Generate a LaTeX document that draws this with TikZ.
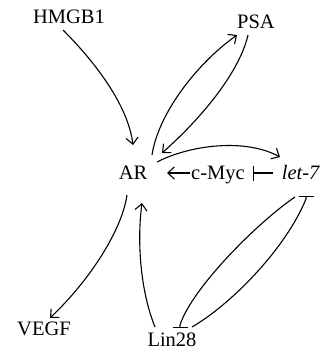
\documentclass[tikz,border=0pt]{standalone}
\usepackage{fontspec}
\setmainfont{Liberation Serif}
\usetikzlibrary{arrows.meta,calc}
\tikzset{
  lbl/.style={inner sep=0pt, text height=14pt, text depth=4pt, font=\fontsize{20.5}{24}\selectfont},
  act/.style={line width=1.1pt, -{Straight Barb[length=6.5pt,width=12pt,line width=1.1pt]}},
  inh/.style={line width=1.1pt, -{Bar[width=15pt,line width=1.1pt]}}
}
\begin{document}
\begin{tikzpicture}[x=1pt,y=-1pt]
\useasboundingbox (0,0) rectangle (328,357);
\node[lbl] (H) at (69,18) {HMGB1};
\node[lbl] (P) at (256,23) {PSA};
\node[lbl] (A) at (133,174) {AR};
\node[lbl] (M) at (218,174) {c-Myc};
\node[lbl] (L) at (301,174) {\textit{let-7}};
\node[lbl] (V) at (44,330) {VEGF};
\node[lbl] (N) at (172,341) {Lin28};
% HMGB1 -> AR
\draw[act] ($(H)+(-6,12)$) .. controls (95,62) and (128,105) .. ($(A)+(0,-29)$);
% AR -> PSA
\draw[act] ($(A)+(19,-19)$) .. controls (158,115) and (195,65) .. ($(P)+(-19,12)$);
% PSA -> AR
\draw[act] ($(P)+(-8,12)$) .. controls (240,70) and (205,115) .. ($(A)+(29,-21)$);
% AR -> let-7
\draw[act] ($(A)+(24,-12)$) .. controls (190,145) and (245,138) .. ($(L)+(-21,-17)$);
% c-Myc -> AR
\draw[act] ($(M)+(-28,-1)$) -- ($(A)+(34,-1)$);
% let-7 -| c-Myc
\draw[inh] ($(L)+(-28,-1)$) -- ($(M)+(35,-1)$);
% AR -> VEGF
\draw[act] ($(A)+(-6,21)$) .. controls (122,230) and (90,280) .. ($(V)+(6,-12)$);
% Lin28 -> AR
\draw[act] ($(N)+(-17,-14)$) .. controls (140,290) and (137,240) .. ($(A)+(9,29)$);
% let-7 -| Lin28
\draw[inh] ($(L)+(-6,23)$) .. controls (258,222) and (192,288) .. ($(N)+(8,-16)$) -- ($(N)+(8,-13)$);
% Lin28 -| let-7
\draw[inh] ($(N)+(20,-14)$) .. controls (230,305) and (285,250) .. ($(L)+(5,25)$) -- ($(L)+(5,22)$);
\end{tikzpicture}
\end{document}
